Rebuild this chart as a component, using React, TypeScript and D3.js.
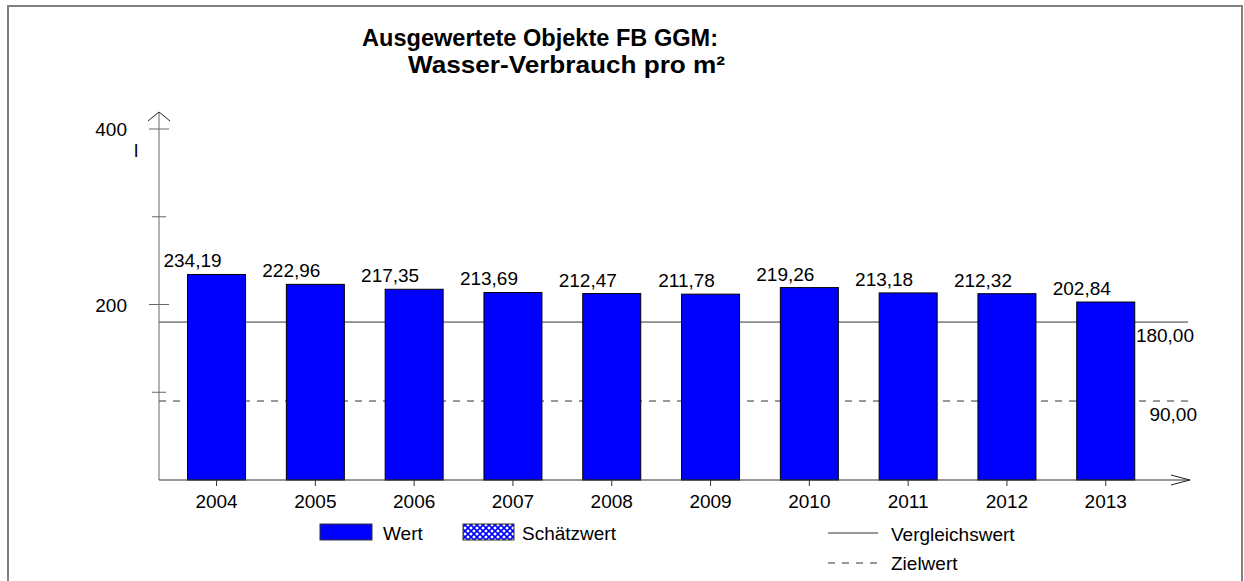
import React from "react";
import * as d3 from "d3";

const years = ["2004", "2005", "2006", "2007", "2008", "2009", "2010", "2011", "2012", "2013"];
const values = [234.19, 222.96, 217.35, 213.69, 212.47, 211.78, 219.26, 213.18, 212.32, 202.84];
const refValue = 180;
const targetValue = 90;
const majorTicks = [200, 400];
const minorTicks = [100, 300];
const titleLines = ["Ausgewertete Objekte FB GGM:", "Wasser-Verbrauch pro m²"];
const unit = "l";
const legendBars = ["Wert", "Schätzwert"];
const legendLines = ["Vergleichswert", "Zielwert"];

const fmt = (v: number) => v.toFixed(2).replace(".", ",");

export default function App() {
  const W = 1244, H = 581;
  const x0 = 159, xEnd = 1163.3;
  const x = d3.scaleBand<string>().domain(years).range([x0, xEnd]).paddingInner(0.413).paddingOuter(0.289);
  const y = d3.scaleLinear().domain([0, 400]).range([480, 129]);
  const font = "'Liberation Sans', Arial, sans-serif";
  const axisColor = "#666";
  const lineColor = "#333";
  const fs = 19;
  const lineEnd = 1188;

  return (
    <svg width={W} height={H} style={{ position: "absolute", left: 0, top: 0, background: "#fff" }} fontFamily={font}>
      <defs>
        <pattern id="hatch" width="6" height="6" patternUnits="userSpaceOnUse">
          <rect width="6" height="6" fill="#fff" />
          <path d="M0,0 L6,6 M6,0 L0,6" stroke="#0000ff" strokeWidth="1.6" />
        </pattern>
      </defs>
      <rect x={0} y={0} width={W} height={H} fill="#fff" />
      <rect x={8} y={6} width={1234} height={620} fill="none" stroke="#808080" strokeWidth={2} />

      {/* title */}
      <text x={362} y={46} fontSize={24} fontWeight="bold" fill="#000" textLength={356} lengthAdjust="spacingAndGlyphs">{titleLines[0]}</text>
      <text x={408} y={73} fontSize={24} fontWeight="bold" fill="#000" textLength={317} lengthAdjust="spacingAndGlyphs">{titleLines[1]}</text>

      {/* reference and target lines */}
      <line x1={x0} x2={lineEnd} y1={y(refValue)} y2={y(refValue)} stroke={lineColor} strokeWidth={1} />
      <line x1={x0} x2={lineEnd} y1={y(targetValue)} y2={y(targetValue)} stroke={lineColor} strokeWidth={1} strokeDasharray="7,7" />

      {/* bars */}
      {years.map((yr, i) => (
        <g key={yr}>
          <rect x={x(yr)!} y={y(values[i])} width={x.bandwidth()} height={y(0) - y(values[i])} fill="#0000ff" stroke="#000" strokeWidth={1} />
          <text x={x(yr)! + 5} y={y(values[i]) - 7} fontSize={fs} textAnchor="middle" fill="#000">{fmt(values[i])}</text>
          <line x1={x(yr)! + x.bandwidth() / 2} x2={x(yr)! + x.bandwidth() / 2} y1={y(0)} y2={y(0) + 6} stroke={lineColor} />
          <text x={x(yr)! + x.bandwidth() / 2} y={y(0) + 28} fontSize={fs} textAnchor="middle" fill="#000">{yr}</text>
        </g>
      ))}

      {/* y axis */}
      <line x1={x0} x2={x0} y1={112} y2={y(0)} stroke={axisColor} strokeWidth={1} />
      <path d={`M${x0 - 11},121 L${x0},112 L${x0 + 11},121`} fill="none" stroke="#222" strokeWidth={1} />
      {majorTicks.map((t) => (
        <g key={t}>
          <line x1={x0 - 10} x2={x0 + 10} y1={y(t)} y2={y(t)} stroke={axisColor} />
          <text x={127} y={y(t) + 7} fontSize={fs} textAnchor="end" fill="#000">{t}</text>
        </g>
      ))}
      {minorTicks.map((t) => (
        <line key={t} x1={x0 - 7} x2={x0 + 7} y1={y(t)} y2={y(t)} stroke={axisColor} />
      ))}
      <text x={134} y={157} fontSize={fs} fill="#000">{unit}</text>

      {/* x axis */}
      <line x1={x0} x2={1190} y1={y(0)} y2={y(0)} stroke={lineColor} strokeWidth={1} />
      <path d={`M1171,475 L1190,${y(0)} L1171,485`} fill="none" stroke="#222" strokeWidth={1} />

      {/* right labels */}
      <text x={1194} y={342} fontSize={fs} textAnchor="end" fill="#000">{fmt(refValue)}</text>
      <text x={1197} y={421} fontSize={fs} textAnchor="end" fill="#000">{fmt(targetValue)}</text>

      {/* legend */}
      <rect x={320} y={524} width={52} height={16} fill="#0000ff" stroke="#333" strokeWidth={1} />
      <text x={383} y={540} fontSize={fs} fill="#000">{legendBars[0]}</text>
      <rect x={463} y={524} width={51} height={16} fill="url(#hatch)" stroke="#333" strokeWidth={1} />
      <text x={522} y={540} fontSize={fs} fill="#000">{legendBars[1]}</text>

      <line x1={828} x2={878} y1={533} y2={533} stroke={lineColor} />
      <text x={891} y={541} fontSize={fs} fill="#000">{legendLines[0]}</text>
      <line x1={828} x2={878} y1={563} y2={563} stroke={lineColor} strokeDasharray="7,7" />
      <text x={891} y={570} fontSize={fs} fill="#000">{legendLines[1]}</text>
    </svg>
  );
}
